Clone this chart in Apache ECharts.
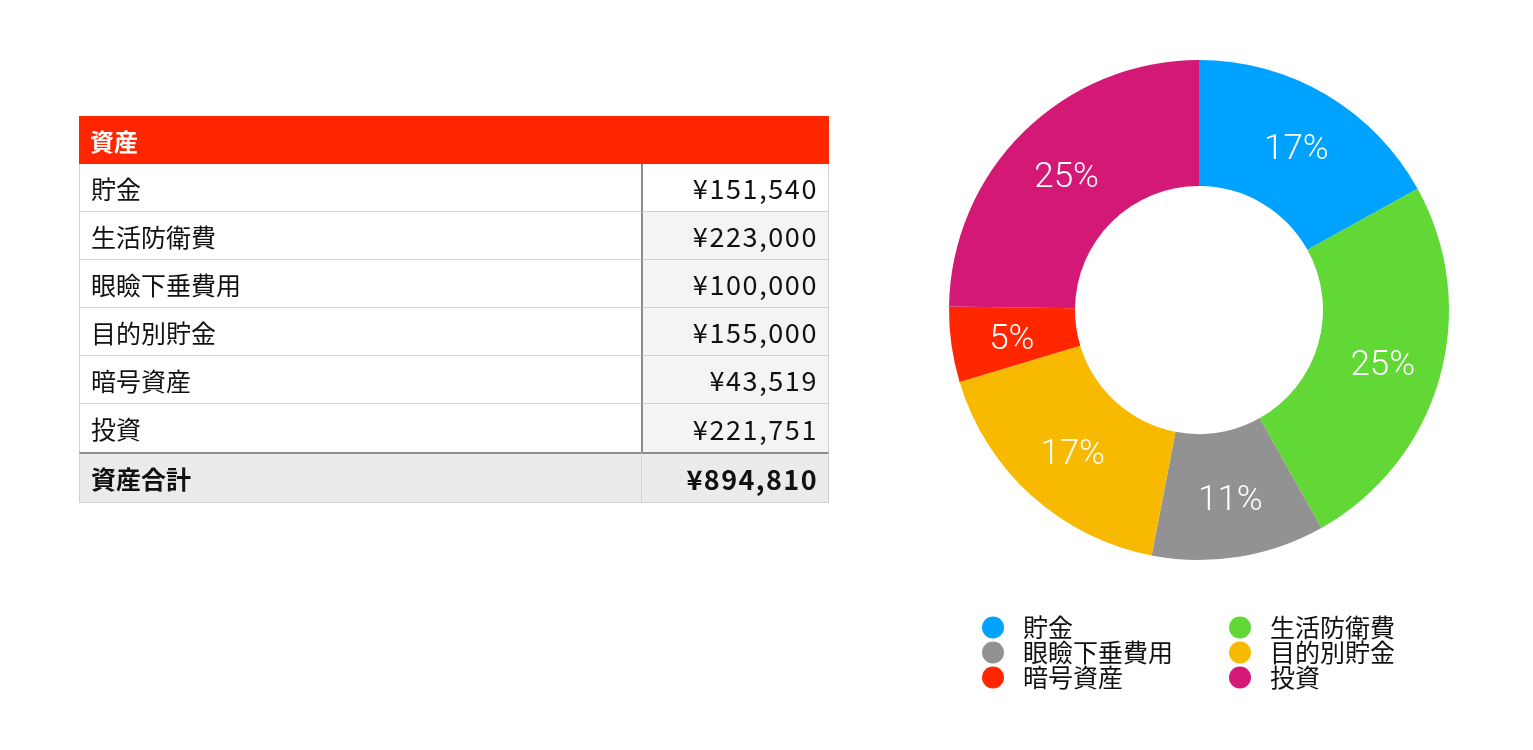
<!DOCTYPE html>
<html><head><meta charset="utf-8">
<script src="https://cdn.jsdelivr.net/npm/echarts@6/dist/echarts.min.js"></script>
<style>
html,body{margin:0;padding:0;background:#fff;}
#chart{position:absolute;left:0;top:0;width:1533px;height:750px;}
#tbl{position:absolute;left:79px;top:116px;border-collapse:separate;border-spacing:0;font-family:"Noto Sans CJK JP",sans-serif;color:#111;z-index:2;table-layout:fixed;width:750px;}
#tbl td{height:48px;padding:0 11px;font-size:25px;border-bottom:1px solid #d2d2d2;box-sizing:border-box;white-space:nowrap;}
#tbl td.k{background:#fff;border-left:1px solid #d2d2d2;}
#tbl td.v{text-align:right;background:#f4f4f4;border-left:2px solid #8c8c8c;border-right:1px solid #d2d2d2;font-size:27px;letter-spacing:1.6px;padding-right:10px;}
#tbl tr.first td.v{background:#fff;}
#tbl tr.hd td{background:#FF2600;color:#fff;font-weight:bold;font-size:24px;height:48px;border:none;}
#tbl tr.tot td{background:#ebebeb;font-weight:bold;border-top:2px solid #8c8c8c;height:51px;}
#tbl tr.tot td.v{border-left:1px solid #d2d2d2;letter-spacing:1.4px;}
#tbl tr.last td{border-bottom:none;}
</style></head>
<body>
<div id="chart"></div>
<table id="tbl"></table>
<script>
const title = '資産';
const categories = ['貯金','生活防衛費','眼瞼下垂費用','目的別貯金','暗号資産','投資'];
const values = [151540,223000,100000,155000,43519,221751];
const totalLabel = '資産合計';
const colors = ['#00A2FF','#61D836','#929292','#F8BA00','#FF2600','#D31876'];
const legendLeftNames = ['貯金','眼瞼下垂費用','暗号資産'];
const legendRightNames = ['生活防衛費','目的別貯金','投資'];

const fmt = v => '¥' + v.toLocaleString('en-US');
const tbl = document.getElementById('tbl');
let html = '<colgroup><col style="width:562px"><col style="width:188px"></colgroup>';
html += '<tr class="hd"><td colspan="2">' + title + '</td></tr>';
categories.forEach((c,i) => {
  const cls = [];
  if (i === 0) cls.push('first');
  if (i === categories.length - 1) cls.push('last');
  html += '<tr class="' + cls.join(' ') + '"><td class="k">' + c + '</td><td class="v">' + fmt(values[i]) + '</td></tr>';
});
const total = values.reduce((a,b)=>a+b,0);
html += '<tr class="tot"><td class="k">' + totalLabel + '</td><td class="v">' + fmt(total) + '</td></tr>';
tbl.innerHTML = html;

const chart = echarts.init(document.getElementById('chart'), null, {renderer:'canvas'});
const legendCommon = {
  orient:'vertical', icon:'circle', itemWidth:22, itemHeight:22, itemGap:0, padding:0,
  selectedMode:false,
  textStyle:{fontFamily:'"Noto Sans CJK JP", sans-serif', fontSize:25, color:'#111', padding:[0,0,0,14], lineHeight:25}
};
chart.setOption({
  animation:false,
  color: colors,
  legend:[
    Object.assign({}, legendCommon, {left:982, top:615, data:legendLeftNames}),
    Object.assign({}, legendCommon, {left:1229, top:615, data:legendRightNames})
  ],
  series:[{
    type:'pie',
    center:[1199,310],
    radius:[124,250],
    startAngle:90,
    clockwise:true,
    avoidLabelOverlap:false,
    label:{
      show:true, position:'inside', color:'#fff',
      fontFamily:'Roboto, sans-serif', fontWeight:300, fontSize:35,
      offset:[1,4],
      formatter: p => Math.round(p.percent) + '%'
    },
    labelLine:{show:false},
    emphasis:{disabled:true},
    itemStyle:{borderWidth:0},
    data: categories.map((c,i)=>({name:c, value:values[i]}))
  }]
});
</script>
</body></html>
